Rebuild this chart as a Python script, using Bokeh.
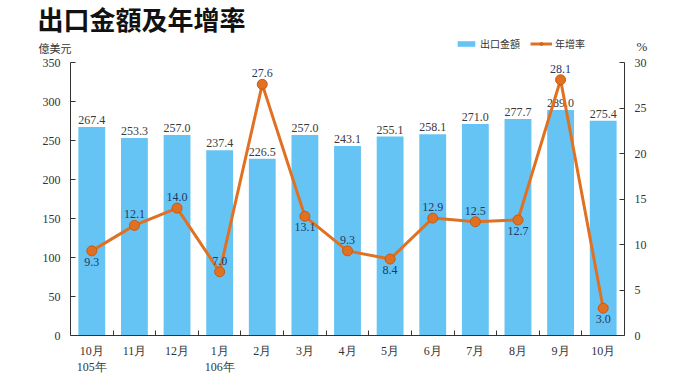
from bokeh.plotting import figure
from bokeh.models import (ColumnDataSource, Range1d, LinearAxis, FixedTicker, Label,
                          Legend, LegendItem)
from bokeh.embed import file_html
from bokeh.resources import INLINE
from bokeh.core.properties import value

months = ["10月", "11月", "12月", "1月", "2月", "3月", "4月", "5月", "6月", "7月", "8月", "9月", "10月"]
years = {0: "105年", 3: "106年"}
exports = [267.4, 253.3, 257.0, 237.4, 226.5, 257.0, 243.1, 255.1, 258.1, 271.0, 277.7, 289.0, 275.4]
growth = [9.3, 12.1, 14.0, 7.0, 27.6, 13.1, 9.3, 8.4, 12.9, 12.5, 12.7, 28.1, 3.0]
growth_label_side = ["below", "above", "above", "above", "above", "below", "above",
                     "below", "above", "above", "below", "above", "below"]
left_ticks = list(range(0, 351, 50))
right_ticks = list(range(0, 31, 5))
LMAX, RMAX = 350, 30

BAR = "#66C4F5"
LINE = "#E07122"
SERIF = "Liberation Serif"
CJK = "Noto Sans CJK TC"
AX = "#333333"

# canvas geometry (pixels)
W, H = 680, 383
PL, PR, PT, PB = 70, 624, 62, 335   # plot box: left, right, top(=max), bottom(=0)
n = len(months)
ux = n / (PR - PL)                  # x units per pixel
uy = LMAX / (PB - PT)               # left units per pixel
ur = RMAX / (PB - PT)               # right units per pixel

p = figure(width=W, height=H, output_backend="svg", toolbar_location=None,
           x_range=Range1d(-0.5 - PL * ux, n - 0.5 + (W - PR) * ux),
           y_range=Range1d(-(H - PB) * uy, LMAX + PT * uy),
           min_border=0)
p.extra_y_ranges = {"pct": Range1d(-(H - PB) * ur, RMAX + PT * ur)}
p.outline_line_color = None
p.xgrid.grid_line_color = None
p.ygrid.grid_line_color = None

xs = list(range(n))
bar_src = ColumnDataSource(dict(x=xs, y=exports, lbl=[f"{v:.1f}" for v in exports]))
bars = p.vbar(x="x", top="y", width=0.63, source=bar_src, fill_color=BAR, line_color=None)
p.text(x="x", y="y", text="lbl", source=bar_src, text_align="center", text_baseline="bottom",
       y_offset=-3, text_font=value(SERIF), text_font_size="12px", text_color="#3a3a3a")

g_src = ColumnDataSource(dict(x=xs, y=growth))
ln = p.line(x="x", y="y", source=g_src, y_range_name="pct", line_color=LINE, line_width=3)
sc = p.scatter(x="x", y="y", source=g_src, y_range_name="pct", size=10, fill_color=LINE,
               line_color="#C85A12", line_width=1)

above = [i for i in xs if growth_label_side[i] == "above"]
below = [i for i in xs if growth_label_side[i] == "below"]
for idx, base, off in ((above, "bottom", -7), (below, "top", 7)):
    src = ColumnDataSource(dict(x=idx, y=[growth[i] for i in idx],
                                lbl=[f"{growth[i]:.1f}" for i in idx]))
    p.text(x="x", y="y", text="lbl", source=src, y_range_name="pct", text_align="center",
           text_baseline=base, y_offset=off, text_font=value(SERIF), text_font_size="12px",
           text_color="#1F3A5F")


def style_y(ax):
    ax.major_tick_in = 5
    ax.major_tick_out = 0
    ax.minor_tick_line_color = None
    ax.axis_line_color = AX
    ax.major_tick_line_color = AX
    ax.major_label_text_font = SERIF
    ax.major_label_text_font_size = "12px"
    ax.major_label_text_color = AX
    ax.major_label_standoff = 10


ly = p.yaxis[0]
ly.ticker = FixedTicker(ticks=left_ticks)
ly.bounds = (0, LMAX)
ly.fixed_location = -0.5
style_y(ly)

ry = LinearAxis(y_range_name="pct", ticker=FixedTicker(ticks=right_ticks), bounds=(0, RMAX),
                fixed_location=n - 0.5)
style_y(ry)
p.add_layout(ry, "right")

# x axis: ticks between categories
xa = p.xaxis[0]
xa.ticker = FixedTicker(ticks=[i + 0.5 for i in xs[:-1]])
xa.bounds = (-0.5, n - 0.5)
xa.fixed_location = 0
xa.major_tick_in = 5
xa.major_tick_out = 0
xa.minor_tick_line_color = None
xa.axis_line_color = AX
xa.major_tick_line_color = AX
xa.major_label_overrides = {i + 0.5: "" for i in xs[:-1]}
xa.major_label_text_font_size = "0px"

labels = {i: months[i] + ("\n" + years[i] if i in years else "") for i in xs}
xa2 = LinearAxis(ticker=FixedTicker(ticks=xs), major_label_overrides=labels, fixed_location=0)
xa2.axis_line_color = None
xa2.major_tick_line_color = None
xa2.minor_tick_line_color = None
xa2.major_tick_in = 0
xa2.major_tick_out = 0
xa2.major_label_text_font = SERIF
xa2.major_label_text_font_size = "12px"
xa2.major_label_text_color = AX
xa2.major_label_standoff = 8
p.add_layout(xa2, "below")

# title, unit labels (screen units from bottom-left of canvas)
p.add_layout(Label(x=37, y=H - 18, x_units="screen", y_units="screen", text="出口金額及年增率",
                   text_font=CJK, text_font_size="26px", text_font_style="bold",
                   text_baseline="middle", text_color="#111111"))
p.add_layout(Label(x=38, y=H - 47, x_units="screen", y_units="screen", text="億美元",
                   text_font=CJK, text_font_size="11px", text_baseline="middle",
                   text_color=AX))
p.add_layout(Label(x=636, y=H - 46, x_units="screen", y_units="screen", text="%",
                   text_font=SERIF, text_font_size="13px", text_baseline="middle",
                   text_color=AX))

legend = Legend(items=[LegendItem(label="出口金額", renderers=[bars]),
                       LegendItem(label="年增率", renderers=[ln, sc])],
                orientation="horizontal", location=(455, H - 51), padding=0, margin=0,
                spacing=10, glyph_width=22, glyph_height=7, label_text_font=CJK,
                label_text_font_size="10px", label_text_color=AX,
                border_line_color=None, background_fill_alpha=0, label_standoff=3,
                label_height=12)
p.add_layout(legend, "center")

open("out.html", "w").write(file_html(p, INLINE))
